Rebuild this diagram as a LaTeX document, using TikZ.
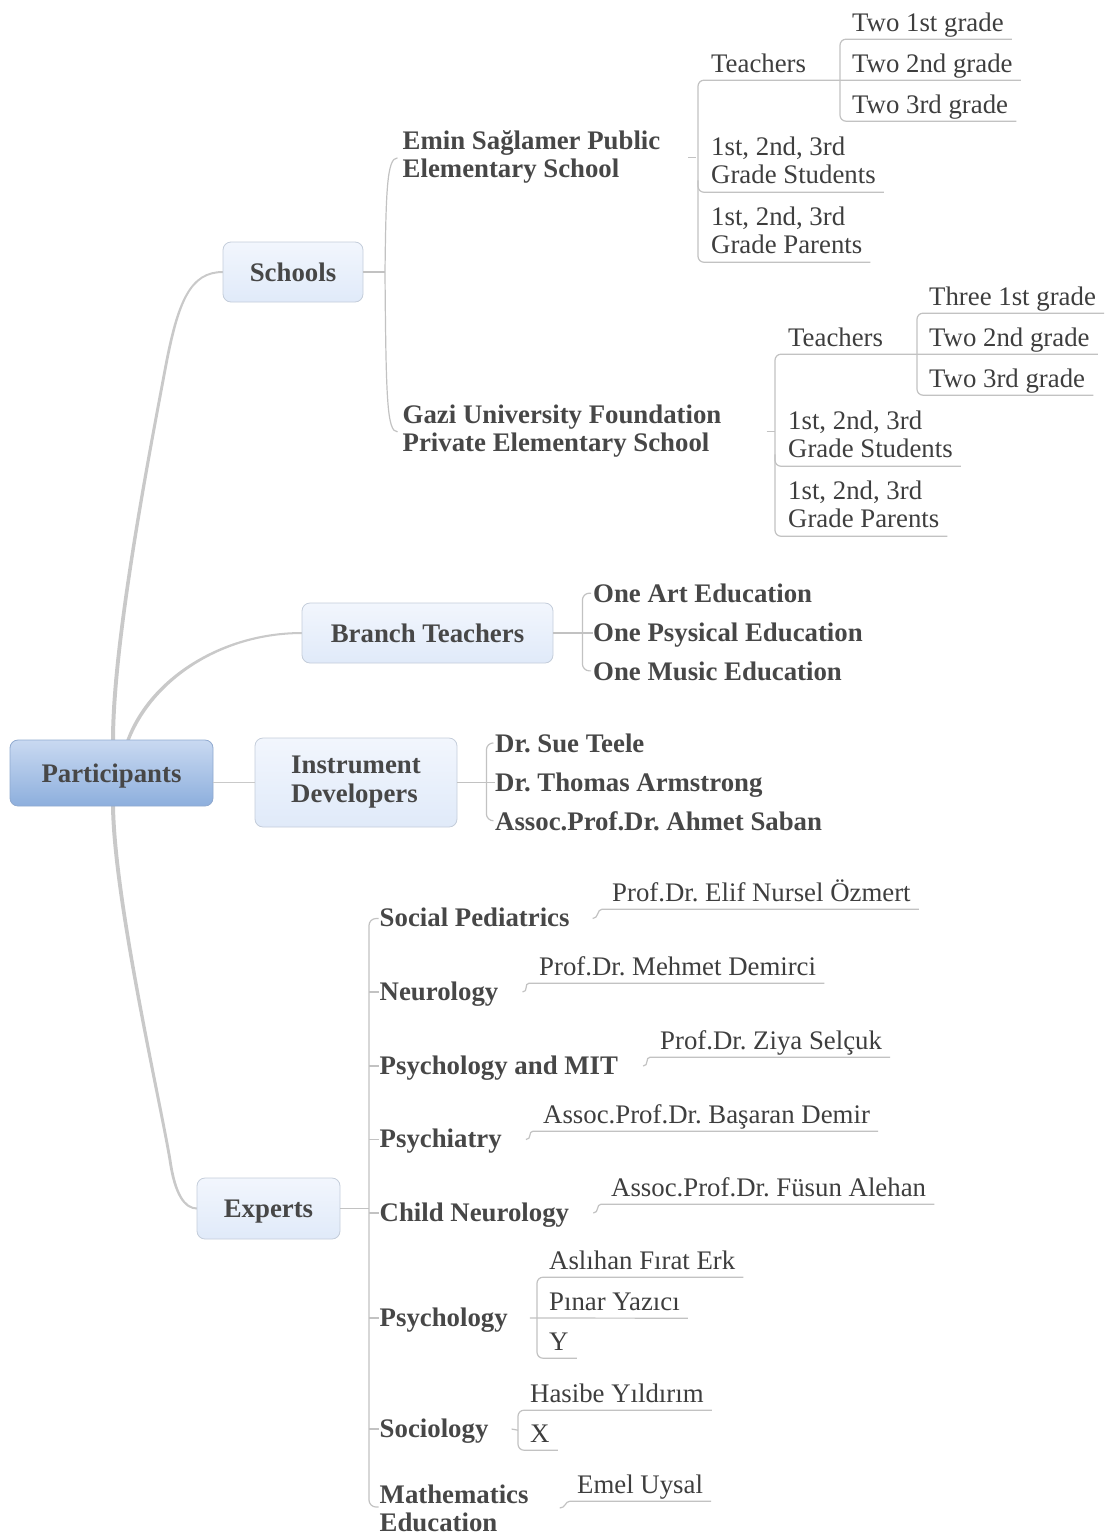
\documentclass[tikz,border=0pt]{standalone}
\usepackage{fontspec}
\setmainfont{Liberation Serif}
\usetikzlibrary{calc}
\frenchspacing

\definecolor{linec}{HTML}{C2C2C2}
\definecolor{trunkc}{HTML}{C9C9C9}
\definecolor{txtc}{HTML}{3E3E3E}
\definecolor{btxtc}{HTML}{474747}
\definecolor{rootA}{HTML}{C9D9F1}
\definecolor{rootB}{HTML}{8DAFDD}
\definecolor{rootE}{HTML}{8FA9CF}
\definecolor{topA}{HTML}{F2F6FD}
\definecolor{topB}{HTML}{E0EAF9}
\definecolor{topE}{HTML}{C4CDDA}

\newcommand\regfont{\fontsize{26.8}{28.5}\selectfont}
\newcommand\boldfont{\fontsize{26.8}{28.5}\selectfont\bfseries}
% two-line labels: [t] keeps the first line on the node's baseline
\newcommand\twoline[2]{\begin{tabular}[t]{@{}l@{}}#1\\#2\end{tabular}}
\newcommand\twolinec[2]{\begin{tabular}{@{}l@{}}#1\\#2\end{tabular}}

\tikzset{
  sub/.style={anchor=base west, inner sep=0pt, text=txtc, font=\regfont},
  sub1/.style={sub, text depth=8pt},
  cat/.style={anchor=base west, inner sep=0pt, text=btxtc, font=\boldfont},
  topic/.style={rounded corners=8pt, draw=topE, line width=0.8pt,
    top color=topA, bottom color=topB, inner sep=0pt, text=btxtc, font=\boldfont},
  topic1/.style={topic, text height=18pt, text depth=0pt},
  root/.style={topic1, draw=rootE, top color=rootA, bottom color=rootB},
  link/.style={draw=linec, line width=1.2pt},
  trunk/.style={fill=trunkc},
}

\begin{document}
\begin{tikzpicture}[x=1pt,y=-1pt]
\useasboundingbox (0,0) rectangle (1105,1537);

% ---- tapered trunk connectors (wide at the root, thin at the topic) ----
\fill[trunk] (111,741) .. controls (111,640) and (148.5,450) .. (163.6,369.8)
  .. controls (176.7,300) and (190,271) .. (223,271)
  -- (223,273) .. controls (191,273) and (179.3,300.4) .. (166.4,370.2)
  .. controls (151.5,450.5) and (115,640) .. (115,741) -- cycle;
\fill[trunk] (126,741) .. controls (148,679) and (220,632) .. (302,632)
  -- (302,634) .. controls (220,634.2) and (152.5,681.5) .. (129.5,741) -- cycle;
\fill[trunk] (111,805) .. controls (112,900) and (158.6,1100.3) .. (168.6,1160.3)
  .. controls (173.8,1196) and (184.5,1209.5) .. (197,1209.5)
  -- (197,1207.5) .. controls (185.5,1207.5) and (176.2,1194) .. (171.4,1159.7)
  .. controls (161.4,1099.7) and (116,900) .. (115,805) -- cycle;

% ---- main topics ----
\node[root, minimum width=203pt, minimum height=66pt] (part) at (111.5,773) {Participants};
\node[topic1, minimum width=140pt, minimum height=60pt] (schools) at (293,272) {Schools};
\node[topic1, minimum width=251pt, minimum height=60pt] (branch) at (427.5,633) {Branch Teachers};
\node[topic, minimum width=202pt, minimum height=89pt] (instr) at (356,782.5) {\twolinec{Instrument}{Developers}};
\node[topic1, minimum width=143pt, minimum height=61pt] (experts) at (268.5,1208.5) {Experts};
\draw[draw=trunkc, line width=1.8pt] (part.east |- instr.west) -- (instr.west);

% ---- schools ----
\node[cat] (emin) at (402.5,149.3) {\twoline{Emin Sağlamer Public}{Elementary School}};
\node[cat] (gazi) at (402.5,423.3) {\twoline{Gazi University Foundation}{Private Elementary School}};
\coordinate (sj) at (385,272);
\draw[link] (schools.east) -- (sj);
\draw[link] (sj) .. controls (386,190) and (387,157.9) .. ($(emin.west)+(-5,0)$);
\draw[link] (sj) .. controls (386,400) and (387,431.8) .. ($(gazi.west)+(-5,0)$);

% Emin Sağlamer subtree
\node[sub1] (t1) at (711,72) {Teachers};
\node[sub1] (t1a) at (852,31) {Two 1st grade};
\node[sub1] (t1b) at (852,72) {Two 2nd grade};
\node[sub1] (t1c) at (852,113) {Two 3rd grade};
\node[sub] (st1) at (711,155) {\twoline{1st, 2nd, 3rd}{Grade Students}};
\node[sub] (pa1) at (711,225) {\twoline{1st, 2nd, 3rd}{Grade Parents}};
\draw[link] ($(emin.east)+(28,0)$) -- ++(8,0);
\draw[link, rounded corners=6pt] ($(t1b.south east)+(8,0)$) -- ($(t1.south west)+(-13,0)$)
  -- ($(pa1.south west)+(-13,0)$) -- ($(pa1.south east)+(8,0)$);
\draw[link, rounded corners=6pt] ($(st1.south west)+(-13,-12)$) -- ($(st1.south west)+(-13,0)$)
  -- ($(st1.south east)+(8,0)$);
\draw[link, rounded corners=6pt] ($(t1a.south east)+(8,0)$) -- ($(t1a.south west)+(-12,0)$)
  -- ($(t1c.south west)+(-12,0)$) -- ($(t1c.south east)+(8,0)$);

% Gazi University subtree
\node[sub1] (t2) at (788,346) {Teachers};
\node[sub1] (t2a) at (929,305) {Three 1st grade};
\node[sub1] (t2b) at (929,346) {Two 2nd grade};
\node[sub1] (t2c) at (929,387) {Two 3rd grade};
\node[sub] (st2) at (788,429) {\twoline{1st, 2nd, 3rd}{Grade Students}};
\node[sub] (pa2) at (788,499) {\twoline{1st, 2nd, 3rd}{Grade Parents}};
\draw[link] ($(gazi.east)+(45,0)$) -- ++(8,0);
\draw[link, rounded corners=6pt] ($(t2b.south east)+(8,0)$) -- ($(t2.south west)+(-13,0)$)
  -- ($(pa2.south west)+(-13,0)$) -- ($(pa2.south east)+(8,0)$);
\draw[link, rounded corners=6pt] ($(st2.south west)+(-13,-12)$) -- ($(st2.south west)+(-13,0)$)
  -- ($(st2.south east)+(8,0)$);
\draw[link, rounded corners=6pt] ($(t2a.south east)+(8,0)$) -- ($(t2a.south west)+(-12,0)$)
  -- ($(t2c.south west)+(-12,0)$) -- ($(t2c.south east)+(8,0)$);

% ---- branch teachers ----
\node[cat] (art) at (593,602.3) {One Art Education};
\node[cat] (phy) at (593,641.7) {One Psysical Education};
\node[cat] (mus) at (593,680) {One Music Education};
\draw[link] (branch.east) -- (branch.east -| phy.west);
\draw[link, rounded corners=7pt] ($(art.west)+(-2,0)$) -| ($(branch.east)+(29,0)$)
  |- ($(mus.west)+(-2,0)$);

% ---- instrument developers ----
\node[cat] (sue) at (495,752) {Dr. Sue Teele};
\node[cat] (tho) at (495,791) {Dr. Thomas Armstrong};
\node[cat] (ahm) at (495,830) {Assoc.Prof.Dr. Ahmet Saban};
\draw[link] (instr.east) -- (instr.east -| tho.west);
\draw[link, rounded corners=7pt] ($(sue.west)+(-2,0)$) -| ($(instr.east)+(29,0)$)
  |- ($(ahm.west)+(-2,0)$);

% ---- experts ----
\node[cat] (sp) at (379.5,926.5) {Social Pediatrics};
\node[cat] (neu) at (379.5,1000) {Neurology};
\node[cat] (pm) at (379.5,1074) {Psychology and MIT};
\node[cat] (pt) at (379.5,1147.5) {Psychiatry};
\node[cat] (cn) at (379.5,1221) {Child Neurology};
\node[cat] (ps) at (379.5,1326) {Psychology};
\node[cat] (so) at (379.5,1437) {Sociology};
\node[cat] (me) at (379.5,1503) {\twoline{Mathematics}{Education}};

\coordinate (ej) at (369,1208.5);
\draw[link] (experts.east) -- (ej);
\draw[link, rounded corners=7pt] ($(sp.base west)+(-1,-8)$) -| (ej) |- ($(me.base west)+(-1,4)$);
\foreach \c in {neu,pm,pt,cn,ps,so}
  \draw[link] ($(\c.base west)+(-10.5,-8)$) -- ++(9.5,0);

\node[sub1] (x1) at (612,901) {Prof.Dr. Elif Nursel Özmert};
\node[sub1] (x2) at (539,975) {Prof.Dr. Mehmet Demirci};
\node[sub1] (x3) at (660,1049) {Prof.Dr. Ziya Selçuk};
\node[sub1] (x4) at (543,1123) {Assoc.Prof.Dr. Başaran Demir};
\node[sub1] (x5) at (611,1196) {Assoc.Prof.Dr. Füsun Alehan};
\node[sub1] (y1) at (549,1269) {Aslıhan Fırat Erk};
\node[sub1] (y2) at (549,1310) {Pınar Yazıcı};
\node[sub1] (y3) at (549,1350) {Y};
\node[sub1] (z1) at (530,1402) {Hasibe Yıldırım};
\node[sub1] (z2) at (530,1442) {X};
\node[sub1] (w1) at (577,1493) {Emel Uysal};

% single-expert links: short hook rising into the name's underline
\draw[link] ($(sp.base east)+(23,-8)$) .. controls +(6,0) and +(-5,0) .. ($(x1.south west)+(-10,0)$) -- ($(x1.south east)+(8,0)$);
\draw[link] ($(neu.base east)+(24,-8)$) .. controls +(6,0) and +(-5,0) .. ($(x2.south west)+(-10,0)$) -- ($(x2.south east)+(8,0)$);
\draw[link] ($(pm.base east)+(25,-8)$) .. controls +(6,0) and +(-5,0) .. ($(x3.south west)+(-10,0)$) -- ($(x3.south east)+(8,0)$);
\draw[link] ($(pt.base east)+(24,-8)$) .. controls +(6,0) and +(-5,0) .. ($(x4.south west)+(-10,0)$) -- ($(x4.south east)+(8,0)$);
\draw[link] ($(cn.base east)+(24,-8)$) .. controls +(6,0) and +(-5,0) .. ($(x5.south west)+(-10,0)$) -- ($(x5.south east)+(8,0)$);
\draw[link] ($(me.base east)+(31,5)$) .. controls +(6,0) and +(-5,0) .. ($(w1.south west)+(-7,0)$) -- ($(w1.south east)+(8,0)$);

% psychology: three names
\draw[link, rounded corners=6pt] ($(y1.south east)+(8,0)$) -- ($(y1.south west)+(-12,0)$)
  -- ($(y3.south west)+(-12,0)$) -- ($(y3.south east)+(8,0)$);
\draw[link] ($(ps.base east)+(22,-8)$) -- ($(y2.south east)+(8,0)$);

% sociology: two names
\draw[link, rounded corners=6pt] ($(z1.south east)+(8,0)$) -- ($(z1.south west)+(-12,0)$)
  -- ($(z2.south west)+(-12,0)$) -- ($(z2.south east)+(8,0)$);
\draw[link] ($(so.base east)+(23,-8)$) -- ($(z1.south west)+(-12,20)$);
\end{tikzpicture}
\end{document}
